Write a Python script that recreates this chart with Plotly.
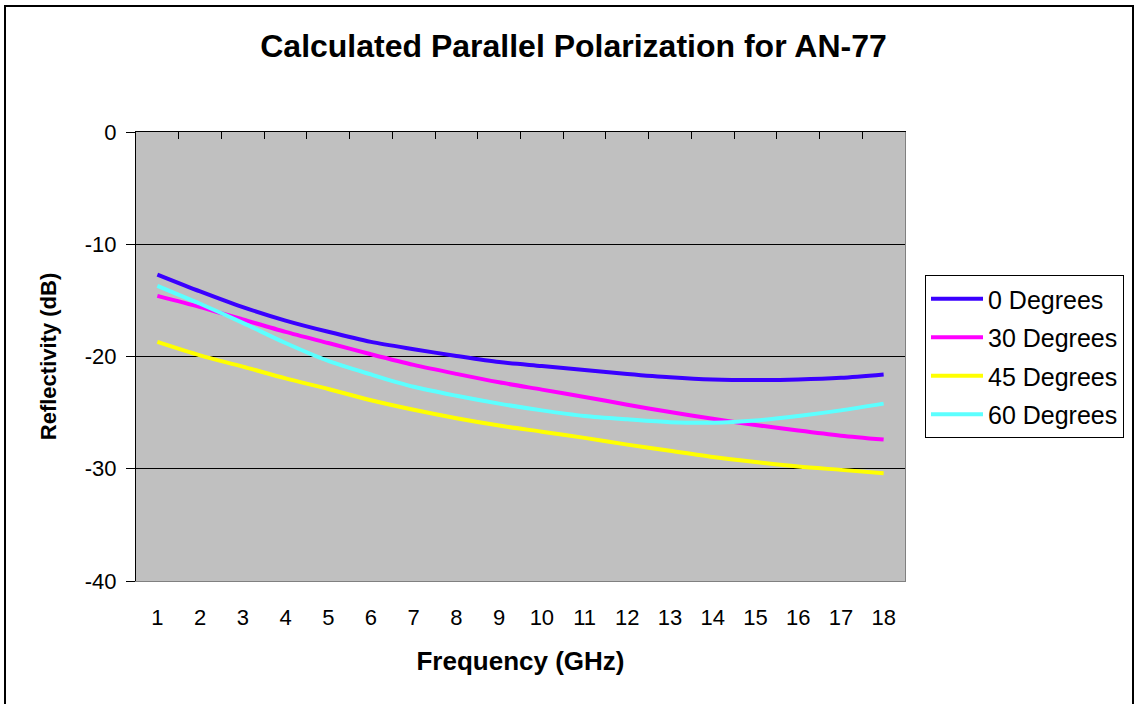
import plotly.graph_objects as go

freq = list(range(1, 19))
deg0 = [-12.7, -14.2, -15.6, -16.8, -17.8, -18.7, -19.35, -19.95, -20.5, -20.85,
        -21.2, -21.55, -21.85, -22.05, -22.1, -22.05, -21.9, -21.6]
deg30 = [-14.6, -15.6, -16.7, -17.8, -18.8, -19.8, -20.75, -21.55, -22.3, -22.95,
         -23.6, -24.3, -24.95, -25.55, -26.1, -26.6, -27.05, -27.4]
deg45 = [-18.7, -19.9, -20.9, -21.95, -22.9, -23.9, -24.75, -25.5, -26.15, -26.7,
         -27.25, -27.85, -28.4, -28.95, -29.4, -29.8, -30.1, -30.4]
deg60 = [-13.7, -15.3, -17.0, -18.8, -20.4, -21.6, -22.7, -23.5, -24.2, -24.8,
         -25.3, -25.6, -25.85, -25.9, -25.7, -25.3, -24.8, -24.2]

series = [
    ("0 Degrees", deg0, "#3A00FF"),
    ("30 Degrees", deg30, "#FF00FF"),
    ("45 Degrees", deg45, "#FFFF00"),
    ("60 Degrees", deg60, "#5CFFFF"),
]
y_ticks = [0, -10, -20, -30, -40]
boundaries = [i + 0.5 for i in range(0, 19)]

FONT = "Liberation Sans, Arial, sans-serif"

fig = go.Figure()
for i, (name, vals, col) in enumerate(series):
    # first series drawn on the overlay axes (same ranges) so the frame axes render
    xa, ya = ("x2", "y2") if i == 0 else ("x", "y")
    fig.add_trace(go.Scatter(
        x=freq, y=vals, name=name, mode="lines",
        line=dict(color=col, width=4, shape="spline", smoothing=0.8),
        legendgroup=f"g{i}", xaxis=xa, yaxis=ya,
    ))

fig.update_layout(
    width=1137, height=704,
    margin=dict(l=136, r=232, t=132, b=123),
    paper_bgcolor="white",
    plot_bgcolor="#C0C0C0",
    font=dict(family=FONT, color="black", size=22),
    title=dict(
        text="<b>Calculated Parallel Polarization for AN-77</b>",
        font=dict(family=FONT, size=32, color="black"),
        xref="container", x=0.5044, xanchor="center",
        yref="container", y=1 - 46 / 704, yanchor="middle",
    ),
    xaxis=dict(
        range=[0.5, 18.5], tickvals=freq, ticktext=[str(v) for v in freq],
        showgrid=False, zeroline=False,
        showline=True, linecolor="#808080", linewidth=1,
        ticks="", ticklabelstandoff=17,
        tickfont=dict(family=FONT, size=22),
        title=dict(text="<b>Frequency (GHz)</b>", font=dict(family=FONT, size=26), standoff=22),
    ),
    xaxis2=dict(
        overlaying="x", side="top", anchor="y",
        range=[0.5, 18.5], tickvals=boundaries,
        showticklabels=False, showgrid=False, zeroline=False,
        showline=True, linecolor="black", linewidth=1,
        ticks="inside", ticklen=7, tickcolor="black",
    ),
    yaxis=dict(
        range=[-40, 0], tickvals=y_ticks, ticktext=[str(v) for v in y_ticks],
        showgrid=True, gridcolor="black", gridwidth=1, zeroline=False,
        showline=True, linecolor="black", linewidth=1,
        ticks="outside", ticklen=9, tickcolor="black", ticklabelstandoff=5,
        tickfont=dict(family=FONT, size=22),
        title=dict(text="<b>Reflectivity (dB)</b>", font=dict(family=FONT, size=22), standoff=22),
    ),
    yaxis2=dict(
        overlaying="y", side="right", anchor="x2",
        range=[-40, 0], showticklabels=False, showgrid=False, zeroline=False,
        showline=True, linecolor="#808080", linewidth=1, ticks="",
    ),
    legend=dict(
        x=(925 - 136) / 769, xanchor="left",
        y=(581 - 275) / 449, yanchor="top",
        bgcolor="white", bordercolor="black", borderwidth=1,
        font=dict(family=FONT, size=25),
        traceorder="grouped", tracegroupgap=3,
        itemwidth=52,
    ),
    shapes=[
        dict(type="rect", xref="paper", yref="paper",
             x0=(5 - 136) / 769, x1=(1133 - 136) / 769,
             y0=(581 - 720) / 449, y1=(581 - 6) / 449,
             line=dict(color="black", width=2), fillcolor="rgba(0,0,0,0)", layer="below"),
    ],
    showlegend=True,
)

fig.write_html("out.html", config={"displayModeBar": False},
               post_script="document.body.style.margin='0';")
